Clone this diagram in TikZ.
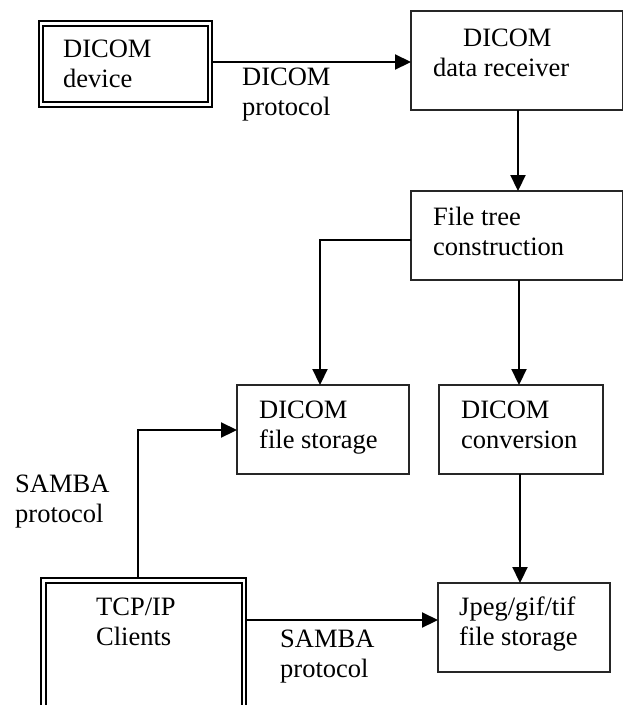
\documentclass[tikz,border=0pt]{standalone}
\usepackage{fontspec}
\setmainfont{Liberation Serif}
\usetikzlibrary{arrows.meta}
\begin{document}
\begin{tikzpicture}[x=1pt,y=-1pt,
  box/.style={draw=black!85, line width=1.1pt, inner sep=0pt, outer sep=0pt},
  dbox/.style={draw, double, double distance=2.5pt, line width=2pt, inner sep=0pt, outer sep=0pt},
  conn/.style={line width=2.2pt, -{Triangle[length=16pt,width=15pt]}},
  lbl/.style={font=\fontsize{26.5}{30}\selectfont, align=left, anchor=base west, inner sep=0pt}]
\clip (0,0) rectangle (624,705);
% boxes
\node[dbox, minimum width=169.3pt, minimum height=81pt] (device) at (125.4,63.8) {};
\node[box, minimum width=211.5pt, minimum height=99pt] (receiver) at (516.75,60.5) {};
\node[box, minimum width=211.5pt, minimum height=89pt] (filetree) at (516.75,235.5) {};
\node[box, minimum width=172pt, minimum height=89pt] (filestore) at (323,429.5) {};
\node[box, minimum width=164pt, minimum height=89pt] (conversion) at (521,429.5) {};
\node[box, minimum width=172pt, minimum height=89pt] (jpeg) at (524,627.5) {};
\node[dbox, minimum width=200.5pt, minimum height=189pt] (tcp) at (143.75,675) {};
% texts (anchored at the baseline of the last line)
\node[lbl] (tdevice) at (63,87) {DICOM\\device};
\node[lbl] (treceiver) at (433,76) {\hspace*{30pt}DICOM\\data receiver};
\node[lbl] (tfiletree) at (433,255) {File tree\\construction};
\node[lbl] (tfilestore) at (259,448) {DICOM\\file storage};
\node[lbl] (tconversion) at (461,448) {DICOM\\conversion};
\node[lbl] (tjpeg) at (459,645) {Jpeg/gif/tif\\file storage};
\node[lbl] (ttcp) at (96,645) {TCP/IP\\Clients};
\node[lbl] (ldicom) at (242,115) {DICOM\\protocol};
\node[lbl] (lsambaA) at (15,522) {SAMBA\\protocol};
\node[lbl] (lsambaB) at (280,677) {SAMBA\\protocol};
% helper coordinates
\coordinate (p1) at (0,62);
\coordinate (p2) at (518,0);
\coordinate (p3) at (320,240);
\coordinate (p4) at (519,0);
\coordinate (p5) at (520,0);
\coordinate (p6) at (138,430);
\coordinate (p7) at (0,620);
% connectors
\draw[conn] ([xshift=2.5pt]device.east |- p1) -- (receiver.west |- p1);
\draw[conn] (p2 |- receiver.south) -- (p2 |- filetree.north);
\draw[conn] (filetree.west |- p3) -- (p3) -- (p3 |- filestore.north);
\draw[conn] (p4 |- filetree.south) -- (p4 |- conversion.north);
\draw[conn] (p5 |- conversion.south) -- (p5 |- jpeg.north);
\draw[conn] ([yshift=2.5pt]tcp.north -| p6) -- (p6) -- (p6 -| filestore.west);
\draw[conn] ([xshift=2.5pt]tcp.east |- p7) -- (jpeg.west |- p7);
\end{tikzpicture}
\end{document}
